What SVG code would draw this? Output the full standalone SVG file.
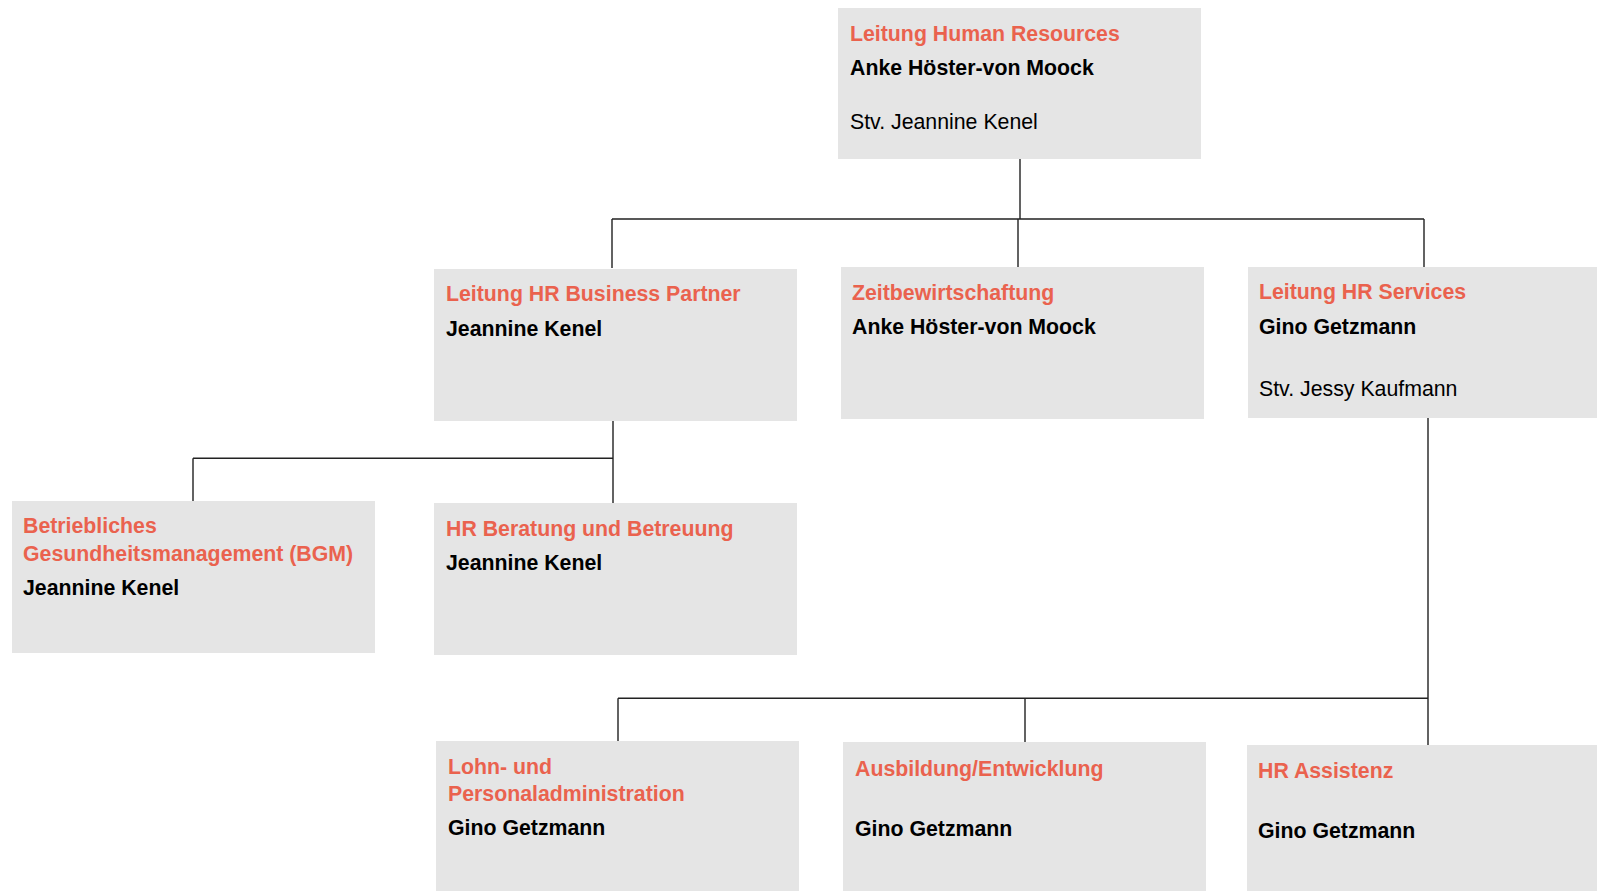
<svg xmlns="http://www.w3.org/2000/svg" width="1597" height="891" viewBox="0 0 1597 891">
<style>
.box{fill:#e5e5e5}
.t{font-family:"Liberation Sans",Arial,sans-serif;font-size:21.3px;font-weight:bold;fill:#ea624e}
.n{font-family:"Liberation Sans",Arial,sans-serif;font-size:21.3px;font-weight:bold;fill:#000}
.s{font-family:"Liberation Sans",Arial,sans-serif;font-size:21.3px;fill:#000}
.c{fill:none;stroke:#222;stroke-width:1.4}
</style>
<rect width="1597" height="891" fill="#fff"/>
<g id="connectors">
<path class="c" d="M1020 157V219M612 219H1424M612 219V268M1018 219V267M1424 219V267"/>
<path class="c" d="M613 419V504M193 458.3H613M193 458.3V501"/>
<path class="c" d="M1428 418V745M618 698.3H1428M618 698.3V741M1025 698.3V742"/>
</g>
<g id="n-leitung-hr">
<rect class="box" x="838" y="8" width="363" height="151"/>
<text class="t" x="850" y="40.5">Leitung Human Resources</text>
<text class="n" x="850" y="75">Anke Höster-von Moock</text>
<text class="s" x="850" y="128.5">Stv. Jeannine Kenel</text>
</g>
<g id="n-business-partner">
<rect class="box" x="434" y="269" width="363" height="152"/>
<text class="t" x="446" y="301">Leitung HR Business Partner</text>
<text class="n" x="446" y="336">Jeannine Kenel</text>
</g>
<g id="n-zeit">
<rect class="box" x="841" y="267" width="363" height="152"/>
<text class="t" x="852" y="299.5">Zeitbewirtschaftung</text>
<text class="n" x="852" y="334">Anke Höster-von Moock</text>
</g>
<g id="n-services">
<rect class="box" x="1248" y="267" width="349" height="151"/>
<text class="t" x="1259" y="299">Leitung HR Services</text>
<text class="n" x="1259" y="334">Gino Getzmann</text>
<text class="s" x="1259" y="395.5">Stv. Jessy Kaufmann</text>
</g>
<g id="n-bgm">
<rect class="box" x="12" y="501" width="363" height="152"/>
<text class="t" x="23" y="533">Betriebliches</text>
<text class="t" x="23" y="560.5">Gesundheitsmanagement (BGM)</text>
<text class="n" x="23" y="594.5">Jeannine Kenel</text>
</g>
<g id="n-beratung">
<rect class="box" x="434" y="503" width="363" height="152"/>
<text class="t" x="446" y="535.5">HR Beratung und Betreuung</text>
<text class="n" x="446" y="570">Jeannine Kenel</text>
</g>
<g id="n-lohn">
<rect class="box" x="436" y="741" width="363" height="150"/>
<text class="t" x="448" y="773.5">Lohn- und</text>
<text class="t" x="448" y="800.5">Personaladministration</text>
<text class="n" x="448" y="835">Gino Getzmann</text>
</g>
<g id="n-ausbildung">
<rect class="box" x="843" y="742" width="363" height="149"/>
<text class="t" x="855" y="775.5">Ausbildung/Entwicklung</text>
<text class="n" x="855" y="835.5">Gino Getzmann</text>
</g>
<g id="n-assistenz">
<rect class="box" x="1247" y="745" width="350" height="146"/>
<text class="t" x="1258" y="777.5">HR Assistenz</text>
<text class="n" x="1258" y="838">Gino Getzmann</text>
</g>
</svg>
